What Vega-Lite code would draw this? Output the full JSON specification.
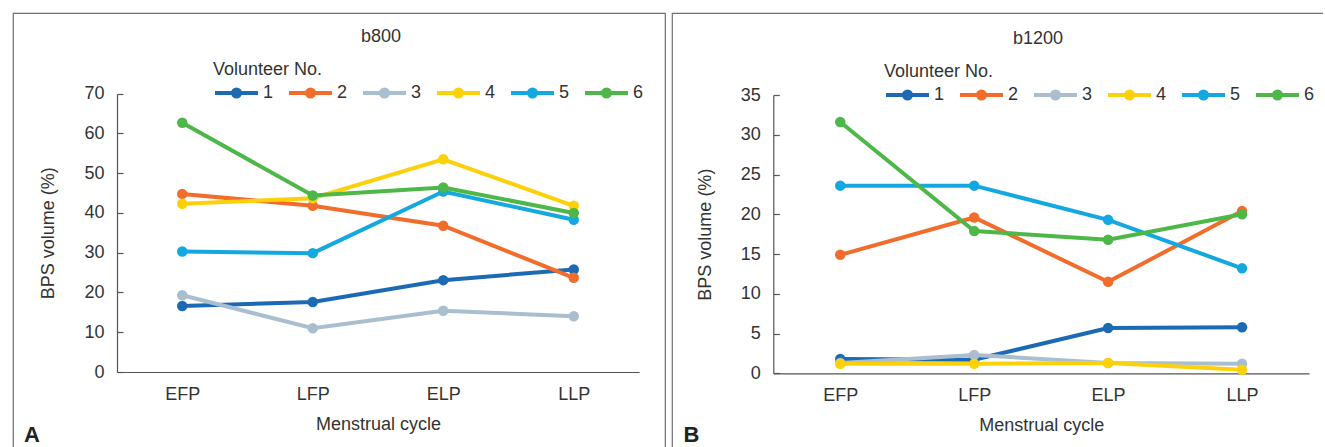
{
  "$schema": "https://vega.github.io/schema/vega-lite/v6.json",
  "background": "white",
  "padding": {"left": 12, "top": 12, "right": -10, "bottom": -16},
  "spacing": 5,
  "datasets": {
    "vols": [
      {"panel": "b800", "phase": "EFP", "vol": "1", "value": 16.6},
      {"panel": "b800", "phase": "LFP", "vol": "1", "value": 17.6},
      {"panel": "b800", "phase": "ELP", "vol": "1", "value": 23.1},
      {"panel": "b800", "phase": "LLP", "vol": "1", "value": 25.8},
      {"panel": "b800", "phase": "EFP", "vol": "2", "value": 44.8},
      {"panel": "b800", "phase": "LFP", "vol": "2", "value": 41.8},
      {"panel": "b800", "phase": "ELP", "vol": "2", "value": 36.8},
      {"panel": "b800", "phase": "LLP", "vol": "2", "value": 23.7},
      {"panel": "b800", "phase": "EFP", "vol": "3", "value": 19.3},
      {"panel": "b800", "phase": "LFP", "vol": "3", "value": 11.0},
      {"panel": "b800", "phase": "ELP", "vol": "3", "value": 15.4},
      {"panel": "b800", "phase": "LLP", "vol": "3", "value": 14.0},
      {"panel": "b800", "phase": "EFP", "vol": "4", "value": 42.3},
      {"panel": "b800", "phase": "LFP", "vol": "4", "value": 43.7},
      {"panel": "b800", "phase": "ELP", "vol": "4", "value": 53.5},
      {"panel": "b800", "phase": "LLP", "vol": "4", "value": 41.8},
      {"panel": "b800", "phase": "EFP", "vol": "5", "value": 30.3},
      {"panel": "b800", "phase": "LFP", "vol": "5", "value": 29.9},
      {"panel": "b800", "phase": "ELP", "vol": "5", "value": 45.4},
      {"panel": "b800", "phase": "LLP", "vol": "5", "value": 38.3},
      {"panel": "b800", "phase": "EFP", "vol": "6", "value": 62.7},
      {"panel": "b800", "phase": "LFP", "vol": "6", "value": 44.4},
      {"panel": "b800", "phase": "ELP", "vol": "6", "value": 46.4},
      {"panel": "b800", "phase": "LLP", "vol": "6", "value": 40.0},
      {"panel": "b1200", "phase": "EFP", "vol": "1", "value": 1.8},
      {"panel": "b1200", "phase": "LFP", "vol": "1", "value": 1.7},
      {"panel": "b1200", "phase": "ELP", "vol": "1", "value": 5.7},
      {"panel": "b1200", "phase": "LLP", "vol": "1", "value": 5.8},
      {"panel": "b1200", "phase": "EFP", "vol": "2", "value": 14.9},
      {"panel": "b1200", "phase": "LFP", "vol": "2", "value": 19.6},
      {"panel": "b1200", "phase": "ELP", "vol": "2", "value": 11.5},
      {"panel": "b1200", "phase": "LLP", "vol": "2", "value": 20.4},
      {"panel": "b1200", "phase": "EFP", "vol": "3", "value": 1.3},
      {"panel": "b1200", "phase": "LFP", "vol": "3", "value": 2.3},
      {"panel": "b1200", "phase": "ELP", "vol": "3", "value": 1.3},
      {"panel": "b1200", "phase": "LLP", "vol": "3", "value": 1.2},
      {"panel": "b1200", "phase": "EFP", "vol": "4", "value": 1.2},
      {"panel": "b1200", "phase": "LFP", "vol": "4", "value": 1.2},
      {"panel": "b1200", "phase": "ELP", "vol": "4", "value": 1.3},
      {"panel": "b1200", "phase": "LLP", "vol": "4", "value": 0.45},
      {"panel": "b1200", "phase": "EFP", "vol": "5", "value": 23.6},
      {"panel": "b1200", "phase": "LFP", "vol": "5", "value": 23.6},
      {"panel": "b1200", "phase": "ELP", "vol": "5", "value": 19.3},
      {"panel": "b1200", "phase": "LLP", "vol": "5", "value": 13.2},
      {"panel": "b1200", "phase": "EFP", "vol": "6", "value": 31.6},
      {"panel": "b1200", "phase": "LFP", "vol": "6", "value": 17.9},
      {"panel": "b1200", "phase": "ELP", "vol": "6", "value": 16.8},
      {"panel": "b1200", "phase": "LLP", "vol": "6", "value": 20.0}
    ]
  },
  "hconcat": [
    {
      "width": 652,
      "height": 450,
      "data": {"name": "vols"},
      "transform": [{"filter": "datum.panel == 'b800'"}],
      "title": {"text": "b800", "anchor": "middle", "frame": "group", "dx": 42, "dy": 42, "offset": 0, "baseline": "middle"},
      "encoding": {
        "y": {
          "field": "value", "type": "quantitative",
          "scale": {"domain": [0, 70], "range": [359, 80.7], "nice": false, "zero": true},
          "axis": {"title": "BPS volume (%)", "values": [0, 10, 20, 30, 40, 50, 60, 70], "offset": -104, "tickSize": -6, "labelPadding": 19, "titlePadding": 26, "grid": false}
        },
        "color": {
          "field": "vol", "type": "nominal",
          "scale": {"domain": ["1", "2", "3", "4", "5", "6"], "range": ["#1c6ab4", "#f26c2b", "#a9bfcf", "#fdd10a", "#14a8e0", "#4db748"]},
          "legend": {"orient": "none", "legendX": 200, "legendY": 48, "direction": "horizontal", "columns": 6, "title": "Volunteer No.", "titlePadding": -10, "labelOffset": 3, "columnPadding": 7, "symbolType": "M-1,0H1M0.163,0A0.163,0.163 0 1,1 -0.163,0A0.163,0.163 0 1,1 0.163,0M0.07,0A0.07,0.07 0 1,1 -0.07,0A0.07,0.07 0 1,1 0.07,0", "symbolSize": 1849, "symbolStrokeWidth": 4}
        }
      },
      "resolve": {"axis": {"x": "independent"}},
      "layer": [
        {
          "mark": {"type": "line", "strokeWidth": 4},
          "encoding": {
            "x": {"field": "phase", "type": "ordinal", "sort": ["EFP", "LFP", "ELP", "LLP"],
              "scale": {"type": "point", "padding": 0.5, "range": [104, 626]},
              "axis": {"title": "Menstrual cycle", "labelAngle": 0, "ticks": false, "offset": -91, "labelPadding": 13, "titlePadding": 12, "grid": false}}
          }
        },
        {
          "mark": {"type": "point", "filled": true, "size": 110, "opacity": 1},
          "encoding": {
            "x": {"field": "phase", "type": "ordinal", "sort": ["EFP", "LFP", "ELP", "LLP"],
              "axis": {"title": "A", "orient": "bottom", "labels": false, "ticks": false, "domain": false, "grid": false, "titleX": 18.5, "titleY": -29, "titleAngle": 0, "titleAlign": "center", "titleBaseline": "middle", "titleFontWeight": "bold", "titleFontSize": 22, "titleColor": "#222"}}
          }
        }
      ]
    },
    {
      "width": 660,
      "height": 450,
      "data": {"name": "vols"},
      "transform": [{"filter": "datum.panel == 'b1200'"}],
      "title": {"text": "b1200", "anchor": "middle", "frame": "group", "dx": 36, "dy": 44, "offset": 0, "baseline": "middle"},
      "encoding": {
        "y": {
          "field": "value", "type": "quantitative",
          "scale": {"domain": [0, 35], "range": [360.3, 82], "nice": false, "zero": true},
          "axis": {"title": "BPS volume (%)", "values": [0, 5, 10, 15, 20, 25, 30, 35], "offset": -101.3, "tickSize": -6, "labelPadding": 19, "titlePadding": 26, "grid": false}
        },
        "color": {
          "field": "vol", "type": "nominal",
          "scale": {"domain": ["1", "2", "3", "4", "5", "6"], "range": ["#1c6ab4", "#f26c2b", "#a9bfcf", "#fdd10a", "#14a8e0", "#4db748"]},
          "legend": {"orient": "none", "legendX": 212, "legendY": 50, "direction": "horizontal", "columns": 6, "title": "Volunteer No.", "titlePadding": -10, "labelOffset": 3, "columnPadding": 7, "symbolType": "M-1,0H1M0.163,0A0.163,0.163 0 1,1 -0.163,0A0.163,0.163 0 1,1 0.163,0M0.07,0A0.07,0.07 0 1,1 -0.07,0A0.07,0.07 0 1,1 0.07,0", "symbolSize": 1849, "symbolStrokeWidth": 4}
        }
      },
      "resolve": {"axis": {"x": "independent"}},
      "layer": [
        {
          "mark": {"type": "line", "strokeWidth": 4},
          "encoding": {
            "x": {"field": "phase", "type": "ordinal", "sort": ["EFP", "LFP", "ELP", "LLP"],
              "scale": {"type": "point", "padding": 0.5, "range": [101.3, 637]},
              "axis": {"title": "Menstrual cycle", "labelAngle": 0, "ticks": false, "offset": -89.7, "labelPadding": 13, "titlePadding": 12, "grid": false}}
          }
        },
        {
          "mark": {"type": "point", "filled": true, "size": 110, "opacity": 1},
          "encoding": {
            "x": {"field": "phase", "type": "ordinal", "sort": ["EFP", "LFP", "ELP", "LLP"],
              "axis": {"title": "B", "orient": "bottom", "labels": false, "ticks": false, "domain": false, "grid": false, "titleX": 19, "titleY": -29, "titleAngle": 0, "titleAlign": "center", "titleBaseline": "middle", "titleFontWeight": "bold", "titleFontSize": 22, "titleColor": "#222"}}
          }
        }
      ]
    }
  ],
  "resolve": {"scale": {"color": "independent"}, "legend": {"color": "independent"}},
  "config": {
    "font": "Liberation Sans",
    "view": {"stroke": "#6f6f6f", "strokeWidth": 1.2},
    "title": {"fontSize": 18, "fontWeight": "normal", "color": "#333", "font": "Liberation Sans"},
    "axis": {"labelFontSize": 18, "labelColor": "#333", "titleFontSize": 18, "titleFontWeight": "normal", "titleColor": "#333", "domainColor": "#555", "tickColor": "#555", "domainWidth": 1.2, "tickWidth": 1.2, "labelFont": "Liberation Sans", "titleFont": "Liberation Sans"},
    "legend": {"titleFontSize": 18, "titleFontWeight": "normal", "titleColor": "#333", "labelFontSize": 18, "labelColor": "#333", "labelFont": "Liberation Sans", "titleFont": "Liberation Sans"}
  }
}
